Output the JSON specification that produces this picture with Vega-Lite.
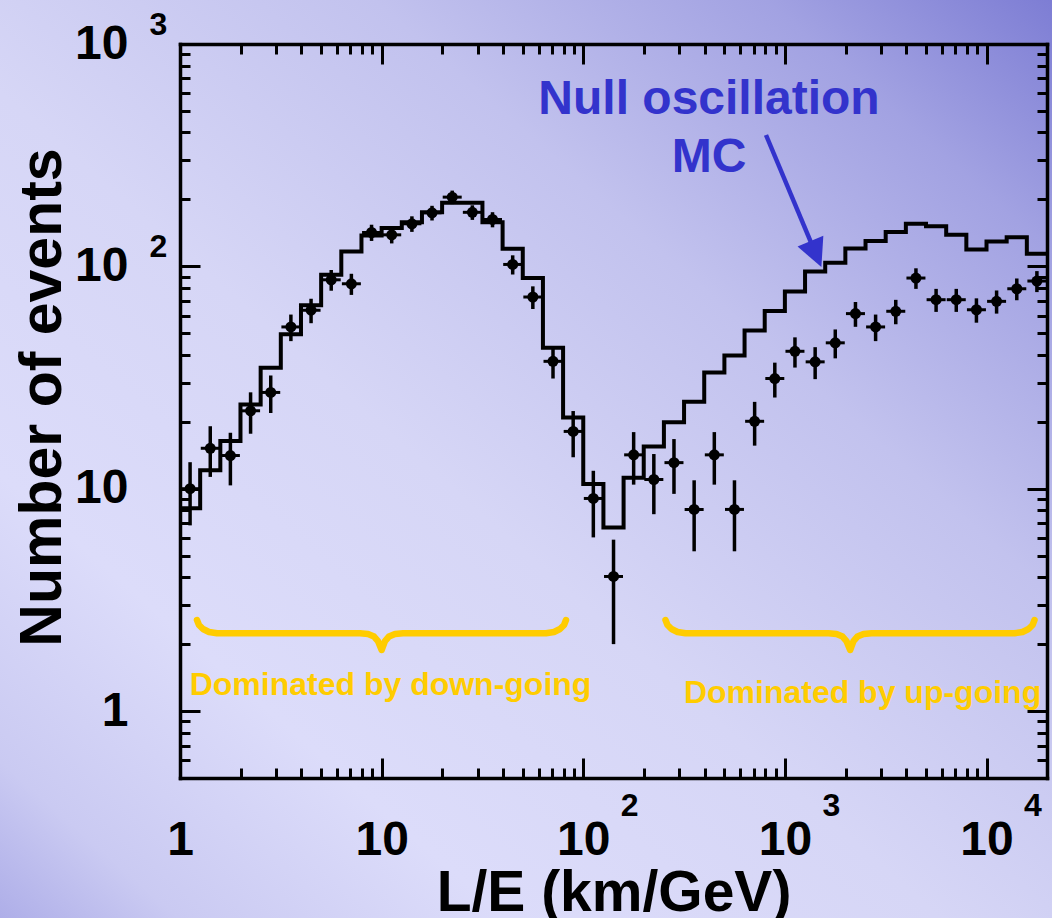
{
  "$schema": "https://vega.github.io/schema/vega-lite/v6.json",
  "width": 867,
  "height": 734,
  "autosize": {"type": "none"},
  "padding": {"left": 180, "top": 44, "right": 5, "bottom": 140},
  "background": "#d0d0f4",
  "config": {
    "font": "Liberation Sans",
    "view": {"stroke": null},
    "axis": {
      "grid": false, "zindex": 1,
      "domainColor": "black", "domainWidth": 3.5, "domainCap": "square",
      "tickColor": "black", "tickWidth": 3,
      "labelColor": "black", "labelFont": "Liberation Sans", "labelFontWeight": "bold",
      "titleFont": "Liberation Sans", "titleFontWeight": "bold", "titleColor": "black",
      "labelFlush": false, "labelOverlap": false, "labelBound": false
    }
  },
  "resolve": {"axis": {"x": "independent", "y": "independent"}},
  "layer": [
    {
      "data": {"values": [{}]},
      "mark": {"type": "rect", "fill": {"gradient": "linear", "x1": 1, "y1": 0, "x2": 0, "y2": 1,
        "stops": [
          {"offset": 0, "color": "#7878d2"},
          {"offset": 0.15, "color": "#a2a2e2"},
          {"offset": 0.33, "color": "#c2c2ee"},
          {"offset": 0.55, "color": "#d6d6f6"},
          {"offset": 0.75, "color": "#dcdcfa"},
          {"offset": 0.9, "color": "#cacaf2"},
          {"offset": 1, "color": "#a8a8e6"}]}},
      "encoding": {
        "x": {"datum": 0.1, "type": "quantitative", "scale": {"type": "log", "domain": [1, 19953], "nice": false},
          "axis": {"orient": "bottom", "zindex": 1, "values": [1, 10, 100, 1000, 10000], "labelExpr": "datum.value == 1 ? '1' : '10'",
            "ticks": false, "domain": true, "labelFontSize": 48, "labelPadding": 38,
            "title": "L/E (km/GeV)", "titleFontSize": 57, "titlePadding": 1}},
        "x2": {"datum": 25000},
        "y": {"datum": 0.1, "type": "quantitative", "scale": {"type": "log", "domain": [0.5, 1000], "nice": false},
          "axis": {"orient": "left", "zindex": 1, "values": [1, 10, 100, 1000], "labelExpr": "datum.value == 1 ? '1' : '10'",
            "ticks": false, "domain": true, "labelFontSize": 48, "labelPadding": 52,
            "title": "Number of events", "titleFontSize": 59, "titlePadding": 2, "titleY": 353}},
        "y2": {"datum": 2000}
      }
    },
    {
      "data": {"values": [
        {"x": 1, "n": 8.16}, {"x": 1.259, "n": 12.1}, {"x": 1.585, "n": 16.4}, {"x": 1.995, "n": 23.9},
        {"x": 2.512, "n": 35.0}, {"x": 3.162, "n": 49.5}, {"x": 3.981, "n": 66.8}, {"x": 5.012, "n": 91.6},
        {"x": 6.310, "n": 116.7}, {"x": 7.943, "n": 137.6}, {"x": 10, "n": 148.6}, {"x": 12.59, "n": 158},
        {"x": 15.85, "n": 175}, {"x": 19.95, "n": 193}, {"x": 25.12, "n": 193}, {"x": 31.62, "n": 158},
        {"x": 39.81, "n": 120}, {"x": 50.12, "n": 88.6}, {"x": 63.10, "n": 43}, {"x": 79.43, "n": 20.9},
        {"x": 100, "n": 10.5}, {"x": 125.9, "n": 6.7}, {"x": 158.5, "n": 11.2}, {"x": 199.5, "n": 15.5},
        {"x": 251.2, "n": 19.9}, {"x": 316.2, "n": 24.6}, {"x": 398.1, "n": 33.3}, {"x": 501.2, "n": 39.7},
        {"x": 631.0, "n": 51.5}, {"x": 794.3, "n": 63}, {"x": 1000, "n": 77.1}, {"x": 1259, "n": 94.9},
        {"x": 1585, "n": 103.8}, {"x": 1995, "n": 120.4}, {"x": 2512, "n": 130}, {"x": 3162, "n": 142.6},
        {"x": 3981, "n": 155.4}, {"x": 5012, "n": 151.6}, {"x": 6310, "n": 138.6}, {"x": 7943, "n": 119},
        {"x": 10000, "n": 129.4}, {"x": 12589, "n": 135.3}, {"x": 15849, "n": 114}, {"x": 19953, "n": 114}
      ]},
      "mark": {"type": "line", "interpolate": "step-after", "color": "black", "strokeWidth": 4, "strokeJoin": "miter"},
      "encoding": {
        "x": {"field": "x", "type": "quantitative",
          "axis": {"orient": "bottom", "zindex": 1, "values": [1, 10, 100, 1000, 10000], "labels": false, "domain": false, "tickSize": -20, "title": null}},
        "y": {"field": "n", "type": "quantitative",
          "axis": {"orient": "left", "zindex": 1, "values": [1, 10, 100, 1000], "labels": false, "domain": false, "tickSize": -20, "title": null}}
      }
    },
    {
      "data": {"name": "pts"},
      "mark": {"type": "rule", "color": "black", "strokeWidth": 3.5},
      "encoding": {
        "x": {"field": "x", "type": "quantitative",
          "axis": {"orient": "bottom", "zindex": 1, "values": [2,3,4,5,6,7,8,9,20,30,40,50,60,70,80,90,200,300,400,500,600,700,800,900,2000,3000,4000,5000,6000,7000,8000,9000],
            "labels": false, "domain": false, "tickSize": -10, "title": null}},
        "y": {"field": "lo", "type": "quantitative",
          "axis": {"orient": "left", "zindex": 1, "values": [0.6,0.7,0.8,0.9,2,3,4,5,6,7,8,9,20,30,40,50,60,70,80,90,200,300,400,500,600,700,800,900],
            "labels": false, "domain": false, "tickSize": -10, "title": null}},
        "y2": {"field": "hi"}
      }
    },
    {
      "data": {"name": "pts"},
      "mark": {"type": "tick", "orient": "horizontal", "color": "black", "size": 19, "thickness": 3, "opacity": 1},
      "encoding": {
        "x": {"field": "x", "type": "quantitative",
          "axis": {"orient": "bottom", "zindex": 1, "values": [100, 1000, 10000], "labelExpr": "datum.value == 100 ? '2' : (datum.value == 1000 ? '3' : '4')",
            "ticks": false, "domain": false, "labelFontSize": 32, "labelPadding": 12, "labelOffset": 46, "title": null}},
        "y": {"field": "y", "type": "quantitative",
          "axis": {"orient": "left", "zindex": 1, "values": [100, 1000], "labelExpr": "datum.value == 100 ? '2' : '3'",
            "ticks": false, "domain": false, "labelFontSize": 32, "labelPadding": 22, "labelAlign": "center", "labelOffset": -20, "title": null}}
      }
    },
    {
      "data": {"name": "pts"},
      "mark": {"type": "point", "shape": "circle", "filled": true, "size": 121, "color": "black", "opacity": 1},
      "encoding": {
        "x": {"field": "x", "type": "quantitative",
          "axis": {"orient": "top", "zindex": 1, "values": [1, 10, 100, 1000, 10000], "labels": false, "domain": true, "tickSize": -20, "title": null}},
        "y": {"field": "y", "type": "quantitative",
          "axis": {"orient": "right", "zindex": 1, "values": [1, 10, 100, 1000], "labels": false, "domain": true, "tickSize": -20, "title": null}}
      }
    },
    {
      "data": {"values": [
        {"b": "L", "x": 1.214, "y": 2.567}, {"b": "L", "x": 1.242, "y": 2.438}, {"b": "L", "x": 1.300, "y": 2.339},
        {"b": "L", "x": 1.393, "y": 2.267}, {"b": "L", "x": 1.526, "y": 2.237}, {"b": "L", "x": 7.81, "y": 2.237},
        {"b": "L", "x": 8.56, "y": 2.221}, {"b": "L", "x": 9.17, "y": 2.164}, {"b": "L", "x": 9.59, "y": 2.065},
        {"b": "L", "x": 10.0, "y": 1.882}, {"b": "L", "x": 10.39, "y": 2.065}, {"b": "L", "x": 10.88, "y": 2.164},
        {"b": "L", "x": 11.65, "y": 2.221}, {"b": "L", "x": 12.76, "y": 2.237}, {"b": "L", "x": 65.35, "y": 2.237},
        {"b": "L", "x": 71.6, "y": 2.267}, {"b": "L", "x": 76.7, "y": 2.339}, {"b": "L", "x": 80.3, "y": 2.438},
        {"b": "L", "x": 82.1, "y": 2.567},
        {"b": "R", "x": 255.8, "y": 2.567}, {"b": "R", "x": 261.7, "y": 2.438}, {"b": "R", "x": 273.9, "y": 2.339},
        {"b": "R", "x": 293.5, "y": 2.267}, {"b": "R", "x": 321.5, "y": 2.237}, {"b": "R", "x": 1645.6, "y": 2.237},
        {"b": "R", "x": 1803.6, "y": 2.221}, {"b": "R", "x": 1932, "y": 2.164}, {"b": "R", "x": 2020.6, "y": 2.065},
        {"b": "R", "x": 2107, "y": 1.882}, {"b": "R", "x": 2189, "y": 2.065}, {"b": "R", "x": 2292, "y": 2.164},
        {"b": "R", "x": 2455, "y": 2.221}, {"b": "R", "x": 2689, "y": 2.237}, {"b": "R", "x": 13769, "y": 2.237},
        {"b": "R", "x": 15086, "y": 2.267}, {"b": "R", "x": 16161, "y": 2.339}, {"b": "R", "x": 16919, "y": 2.438},
        {"b": "R", "x": 17298, "y": 2.567}
      ]},
      "mark": {"type": "line", "color": "#ffcc00", "strokeWidth": 6.5, "strokeCap": "round", "strokeJoin": "round"},
      "encoding": {
        "x": {"field": "x", "type": "quantitative",
          "axis": {"orient": "top", "zindex": 1, "values": [2,3,4,5,6,7,8,9,20,30,40,50,60,70,80,90,200,300,400,500,600,700,800,900,2000,3000,4000,5000,6000,7000,8000,9000],
            "labels": false, "domain": false, "tickSize": -10, "title": null}},
        "y": {"field": "y", "type": "quantitative",
          "axis": {"orient": "right", "zindex": 1, "values": [0.6,0.7,0.8,0.9,2,3,4,5,6,7,8,9,20,30,40,50,60,70,80,90,200,300,400,500,600,700,800,900],
            "labels": false, "domain": false, "tickSize": -10, "title": null}},
        "detail": {"field": "b"}
      }
    },
    {
      "data": {"values": [{}]},
      "mark": {"type": "rule", "color": "#3333cc", "strokeWidth": 4.5},
      "encoding": {
        "x": {"datum": 806, "type": "quantitative", "axis": null},
        "y": {"datum": 389.7, "type": "quantitative", "axis": null},
        "x2": {"datum": 1425},
        "y2": {"datum": 113.6}
      }
    },
    {
      "data": {"values": [{}]},
      "mark": {"type": "point", "shape": "M -1 -1 L 1 -1 L 0 1 Z", "size": 784, "filled": true, "color": "#3333cc", "opacity": 1, "angle": 337},
      "encoding": {
        "x": {"datum": 1425, "type": "quantitative", "axis": null},
        "y": {"datum": 113.6, "type": "quantitative", "axis": null}
      }
    },
    {
      "data": {"values": [{}]},
      "mark": {"type": "text", "text": "Null oscillation", "fontSize": 48, "fontWeight": "bold", "color": "#3333cc", "align": "center", "baseline": "alphabetic"},
      "encoding": {
        "x": {"datum": 420.4, "type": "quantitative", "axis": null},
        "y": {"datum": 484.5, "type": "quantitative", "axis": null}
      }
    },
    {
      "data": {"values": [{}]},
      "mark": {"type": "text", "text": "MC", "fontSize": 48, "fontWeight": "bold", "color": "#3333cc", "align": "center", "baseline": "alphabetic"},
      "encoding": {
        "x": {"datum": 420.4, "type": "quantitative", "axis": null},
        "y": {"datum": 266.6, "type": "quantitative", "axis": null}
      }
    },
    {
      "data": {"values": [{}]},
      "mark": {"type": "text", "text": "Dominated by down-going", "fontSize": 32, "fontWeight": "bold", "color": "#ffcc00", "align": "center", "baseline": "alphabetic"},
      "encoding": {
        "x": {"datum": 11.07, "type": "quantitative", "axis": null},
        "y": {"datum": 1.181, "type": "quantitative", "axis": null}
      }
    },
    {
      "data": {"values": [{}]},
      "mark": {"type": "text", "text": "Dominated by up-going", "fontSize": 32, "fontWeight": "bold", "color": "#ffcc00", "align": "center", "baseline": "alphabetic"},
      "encoding": {
        "x": {"datum": 2427, "type": "quantitative", "axis": null},
        "y": {"datum": 1.087, "type": "quantitative", "axis": null}
      }
    }
  ],
  "datasets": {
    "pts": [
      {"x": 1.122, "y": 10.0, "lo": 6.84, "hi": 13.16},
      {"x": 1.413, "y": 15.2, "lo": 11.3, "hi": 19.1},
      {"x": 1.778, "y": 14.1, "lo": 10.35, "hi": 17.85},
      {"x": 2.239, "y": 22.4, "lo": 17.67, "hi": 27.13},
      {"x": 2.818, "y": 27.1, "lo": 21.9, "hi": 32.3},
      {"x": 3.548, "y": 53.4, "lo": 46.1, "hi": 60.7},
      {"x": 4.467, "y": 63.5, "lo": 55.5, "hi": 71.5},
      {"x": 5.623, "y": 87, "lo": 77.7, "hi": 96.3},
      {"x": 7.079, "y": 83.5, "lo": 74.4, "hi": 92.6},
      {"x": 8.913, "y": 142, "lo": 130.1, "hi": 153.9},
      {"x": 11.22, "y": 138.6, "lo": 126.8, "hi": 150.4},
      {"x": 14.13, "y": 155.4, "lo": 142.9, "hi": 167.9},
      {"x": 17.78, "y": 174, "lo": 160.8, "hi": 187.2},
      {"x": 22.39, "y": 204.8, "lo": 190.5, "hi": 219.1},
      {"x": 28.18, "y": 175, "lo": 161.8, "hi": 188.2},
      {"x": 35.48, "y": 162.5, "lo": 149.8, "hi": 175.2},
      {"x": 44.67, "y": 102, "lo": 91.9, "hi": 112.1},
      {"x": 56.23, "y": 72.8, "lo": 64.3, "hi": 81.3},
      {"x": 70.79, "y": 37.4, "lo": 31.3, "hi": 43.5},
      {"x": 89.13, "y": 18.1, "lo": 13.85, "hi": 22.35},
      {"x": 112.2, "y": 9.04, "lo": 6.04, "hi": 12.04},
      {"x": 141.3, "y": 4.03, "lo": 2.0, "hi": 5.9},
      {"x": 177.8, "y": 14.2, "lo": 10.43, "hi": 17.97},
      {"x": 223.9, "y": 11.0, "lo": 7.68, "hi": 14.32},
      {"x": 281.8, "y": 13.1, "lo": 9.48, "hi": 16.72},
      {"x": 354.8, "y": 8.07, "lo": 5.23, "hi": 10.91},
      {"x": 446.7, "y": 14.2, "lo": 10.43, "hi": 17.97},
      {"x": 562.3, "y": 8.07, "lo": 5.23, "hi": 10.91},
      {"x": 707.9, "y": 20.1, "lo": 15.62, "hi": 24.58},
      {"x": 891.3, "y": 31.3, "lo": 25.71, "hi": 36.89},
      {"x": 1122, "y": 41.5, "lo": 35.06, "hi": 47.94},
      {"x": 1413, "y": 37.2, "lo": 31.1, "hi": 43.3},
      {"x": 1778, "y": 45.3, "lo": 38.57, "hi": 52.03},
      {"x": 2239, "y": 61.3, "lo": 53.47, "hi": 69.13},
      {"x": 2818, "y": 53.4, "lo": 46.1, "hi": 60.7},
      {"x": 3548, "y": 62.8, "lo": 54.9, "hi": 70.7},
      {"x": 4467, "y": 88.6, "lo": 79.2, "hi": 98.0},
      {"x": 5623, "y": 70.8, "lo": 62.4, "hi": 79.2},
      {"x": 7079, "y": 70.8, "lo": 62.4, "hi": 79.2},
      {"x": 8913, "y": 63.8, "lo": 55.8, "hi": 71.8},
      {"x": 11220, "y": 69.6, "lo": 61.3, "hi": 77.9},
      {"x": 14130, "y": 79.3, "lo": 70.4, "hi": 88.2},
      {"x": 17780, "y": 85.9, "lo": 76.6, "hi": 95.2}
    ]
  }
}
